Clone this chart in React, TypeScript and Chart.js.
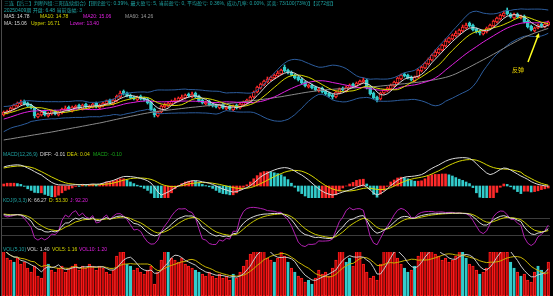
import React, { useEffect, useRef } from 'react';
import { Chart, registerables } from 'chart.js';
Chart.register(...registerables);

// ---------- data ----------
const preCloses = [
  1.9, 1.95, 2.0, 1.95, 2.0, 2.05, 2.0, 2.05, 2.1, 2.05,
  2.1, 2.15, 2.1, 2.2, 2.15, 2.2, 2.25, 2.2, 2.3, 2.25,
  2.3, 2.35, 2.4, 2.35, 2.45, 2.5, 2.45, 2.55, 2.6, 2.7,
  2.8, 2.9, 3.0, 3.1, 3.2, 3.35, 3.5, 3.6, 3.75, 3.9,
  4.1, 4.3, 4.4, 4.6, 4.8, 4.9, 5.1, 5.3, 5.2, 5.5,
  5.6, 5.8, 5.7, 5.9, 6.0, 6.1, 5.9, 6.0, 6.2, 6.3,
];
const opens = [
  5.9, 6.1, 6.3, 6.5, 6.8, 7.0, 7.3, 7.1, 6.9, 6.6, 5.7, 5.9, 6.3, 5.8, 6.0, 6.3, 5.9, 6.1, 6.4, 6.7,
  6.3, 6.6, 6.9, 6.5, 7.0, 6.6, 6.7, 7.1, 6.6, 6.8, 7.0, 7.4, 7.0, 7.3, 7.7, 8.3, 8.1, 7.9, 7.7, 7.4,
  7.8, 7.6, 7.5, 7.2, 6.5, 5.8, 6.2, 6.7, 6.8, 7.0, 7.2, 7.3, 7.5, 7.6, 8.0, 7.7, 8.1, 7.8, 7.4, 7.0,
  7.3, 7.0, 6.9, 6.6, 7.0, 6.5, 6.8, 6.4, 6.9, 6.6, 6.9, 7.1, 7.3, 7.7, 8.2, 8.6, 8.9, 9.2, 9.4, 9.6,
  9.8, 10.0, 10.7, 10.4, 10.2, 9.9, 9.7, 9.5, 9.2, 8.7, 8.9, 8.7, 8.3, 8.6, 8.3, 8.1, 7.9, 7.7, 8.1, 8.6,
  8.3, 8.6, 9.0, 8.8, 9.0, 9.2, 9.4, 8.7, 8.1, 7.7, 7.5, 8.1, 8.3, 8.5, 8.8, 9.1, 9.5, 10.0, 9.9, 9.7,
  9.3, 9.7, 10.3, 10.6, 11.0, 11.4, 11.8, 12.1, 12.4, 12.8, 13.2, 13.5, 13.8, 14.0, 14.3, 14.6, 15.1, 14.9, 14.5, 14.3,
  14.0, 14.2, 14.5, 14.8, 15.2, 15.5, 15.8, 16.4, 16.0, 15.6, 16.0, 15.6, 15.8, 15.3, 14.8, 14.3, 14.6, 15.0, 14.7, 14.9,
];
const highs = [
  6.3, 6.4, 6.7, 7.0, 7.2, 7.4, 7.4, 7.2, 7.0, 6.7, 6.1, 6.3, 6.4, 6.2, 6.4, 6.4, 6.3, 6.6, 6.8, 6.8,
  6.8, 6.9, 7.0, 7.0, 7.1, 6.9, 7.1, 7.2, 7.0, 7.2, 7.4, 7.5, 7.5, 7.9, 8.3, 8.4, 8.2, 8.0, 7.8, 7.8,
  7.9, 7.7, 7.6, 7.3, 6.6, 6.3, 6.9, 7.1, 7.2, 7.4, 7.6, 7.7, 7.9, 8.0, 8.1, 8.2, 8.2, 7.9, 7.5, 7.3,
  7.4, 7.1, 7.0, 7.0, 7.1, 6.8, 6.9, 6.9, 7.0, 7.1, 7.3, 7.5, 7.8, 8.3, 8.8, 9.1, 9.4, 9.7, 9.8, 10.0,
  10.3, 10.5, 10.9, 10.5, 10.3, 10.0, 9.8, 9.6, 9.3, 9.0, 9.0, 8.8, 8.6, 8.7, 8.4, 8.2, 8.0, 8.3, 8.6, 8.7,
  8.8, 9.0, 9.1, 9.2, 9.4, 9.6, 9.5, 8.8, 8.2, 7.8, 8.2, 8.5, 8.7, 9.0, 9.3, 9.7, 10.0, 10.1, 10.0, 9.8,
  9.8, 10.5, 10.8, 11.2, 11.6, 12.0, 12.4, 12.6, 13.0, 13.5, 13.7, 14.0, 14.3, 14.5, 14.9, 15.1, 15.2, 15.0, 14.6, 14.4,
  14.4, 14.7, 15.0, 15.4, 15.7, 16.0, 16.3, 16.6, 16.1, 16.1, 16.1, 15.9, 15.9, 15.4, 14.9, 14.7, 15.0, 15.1, 15.1, 15.3,
];
const lows = [
  5.8, 6.0, 6.2, 6.4, 6.7, 6.9, 6.9, 6.7, 6.5, 5.6, 5.6, 5.8, 5.8, 5.7, 5.9, 5.9, 5.8, 6.0, 6.3, 6.3,
  6.2, 6.5, 6.5, 6.4, 6.6, 6.5, 6.6, 6.6, 6.5, 6.7, 6.9, 7.0, 6.9, 7.2, 7.6, 7.9, 7.7, 7.5, 7.4, 7.3,
  7.4, 7.3, 7.0, 6.3, 5.7, 5.7, 6.1, 6.6, 6.7, 6.9, 7.1, 7.2, 7.4, 7.5, 7.7, 7.6, 7.6, 7.2, 7.0, 6.9,
  6.8, 6.7, 6.6, 6.5, 6.5, 6.4, 6.4, 6.3, 6.5, 6.5, 6.8, 7.0, 7.2, 7.6, 8.1, 8.5, 8.8, 9.1, 9.3, 9.5,
  9.7, 9.9, 10.2, 10.0, 9.8, 9.5, 9.3, 9.0, 8.7, 8.6, 8.5, 8.3, 8.2, 8.1, 7.9, 7.7, 7.5, 7.6, 8.0, 8.3,
  8.2, 8.5, 8.7, 8.7, 8.9, 9.1, 8.5, 7.9, 7.5, 7.2, 7.4, 8.0, 8.2, 8.4, 8.7, 9.0, 9.4, 9.7, 9.5, 9.3,
  9.2, 9.6, 10.2, 10.5, 10.9, 11.3, 11.7, 12.0, 12.3, 12.7, 13.1, 13.4, 13.7, 13.9, 14.2, 14.5, 14.7, 14.3, 14.1, 13.9,
  13.9, 14.1, 14.4, 14.7, 15.1, 15.4, 15.7, 15.9, 15.6, 15.5, 15.6, 15.5, 15.1, 14.6, 14.3, 14.2, 14.5, 14.7, 14.6, 14.8,
];
const closes = [
  6.2, 6.3, 6.6, 6.9, 7.1, 7.2, 7.0, 6.8, 6.6, 5.8, 6.0, 6.2, 5.9, 6.1, 6.3, 6.0, 6.2, 6.5, 6.6, 6.4,
  6.7, 6.8, 6.6, 6.9, 6.7, 6.8, 7.0, 6.7, 6.9, 7.1, 7.3, 7.1, 7.4, 7.8, 8.1, 8.0, 7.8, 7.6, 7.5, 7.7,
  7.5, 7.4, 7.1, 6.4, 5.9, 6.2, 6.8, 6.9, 7.1, 7.3, 7.4, 7.6, 7.7, 7.9, 7.8, 8.0, 7.7, 7.3, 7.1, 7.2,
  6.9, 6.8, 6.7, 6.9, 6.6, 6.7, 6.5, 6.8, 6.6, 7.0, 7.2, 7.4, 7.7, 8.2, 8.7, 9.0, 9.3, 9.5, 9.7, 9.9,
  10.1, 10.4, 10.3, 10.2, 9.9, 9.6, 9.4, 9.1, 8.8, 8.9, 8.6, 8.4, 8.5, 8.2, 8.0, 7.8, 7.7, 8.2, 8.5, 8.4,
  8.7, 8.9, 8.8, 9.1, 9.3, 9.4, 8.6, 8.0, 7.6, 7.4, 8.1, 8.4, 8.6, 8.9, 9.2, 9.6, 9.9, 9.8, 9.6, 9.4,
  9.7, 10.4, 10.7, 11.1, 11.5, 11.9, 12.2, 12.5, 12.9, 13.3, 13.6, 13.9, 14.1, 14.4, 14.7, 14.9, 14.8, 14.4, 14.2, 14.1,
  14.3, 14.6, 14.9, 15.3, 15.6, 15.9, 16.1, 16.0, 15.7, 16.0, 15.7, 15.8, 15.2, 14.7, 14.4, 14.6, 14.9, 14.8, 15.0, 15.2,
];
// long (grey) average line
const ma60 = [
  3.40, 3.46, 3.51, 3.57, 3.63, 3.69, 3.74, 3.80, 3.86, 3.92, 3.97, 4.03, 4.09, 4.14, 4.20, 4.26, 4.33, 4.39, 4.46, 4.52,
  4.59, 4.65, 4.71, 4.78, 4.84, 4.91, 4.97, 5.04, 5.10, 5.17, 5.25, 5.32, 5.40, 5.47, 5.55, 5.62, 5.69, 5.76, 5.83, 5.90,
  5.97, 6.04, 6.10, 6.16, 6.21, 6.26, 6.30, 6.35, 6.39, 6.43, 6.47, 6.51, 6.55, 6.59, 6.63, 6.67, 6.70, 6.74, 6.77, 6.81,
  6.84, 6.88, 6.91, 6.95, 6.98, 7.02, 7.06, 7.10, 7.14, 7.18, 7.22, 7.26, 7.30, 7.35, 7.39, 7.44, 7.48, 7.53, 7.58, 7.63,
  7.68, 7.73, 7.79, 7.85, 7.91, 7.97, 8.03, 8.09, 8.15, 8.20, 8.25, 8.30, 8.34, 8.38, 8.41, 8.44, 8.47, 8.50, 8.52, 8.54,
  8.56, 8.58, 8.60, 8.62, 8.64, 8.66, 8.68, 8.70, 8.73, 8.76, 8.79, 8.83, 8.86, 8.89, 8.93, 8.96, 9.00, 9.03, 9.07, 9.10,
  9.14, 9.18, 9.22, 9.27, 9.32, 9.38, 9.44, 9.51, 9.58, 9.66, 9.76, 9.88, 10.02, 10.18, 10.35, 10.52, 10.70, 10.88, 11.06, 11.24,
  11.42, 11.60, 11.79, 11.98, 12.17, 12.37, 12.56, 12.76, 12.95, 13.14, 13.32, 13.50, 13.67, 13.82, 13.96, 14.09, 14.21, 14.33, 14.45, 14.56,
];
const diffLine = [
  0.95, 1.0, 1.03, 1.05, 1.06, 1.04, 0.98, 0.9, 0.82, 0.72, 0.63, 0.55, 0.42, 0.3, 0.18, 0.1, 0.06, 0.05, 0.05, 0.04,
  0.05, 0.07, 0.06, 0.08, 0.07, 0.08, 0.1, 0.09, 0.1, 0.14, 0.2, 0.23, 0.28, 0.35, 0.42, 0.47, 0.48, 0.47, 0.45, 0.42,
  0.38, 0.33, 0.26, 0.15, -0.05, -0.3, -0.45, -0.38, -0.3, -0.2, -0.1, 0.0, 0.08, 0.16, 0.22, 0.26, 0.27, 0.25, 0.21, 0.18,
  0.14, 0.08, 0.0, -0.08, -0.15, -0.2, -0.26, -0.3, -0.28, -0.22, -0.15, -0.08, 0.02, 0.15, 0.3, 0.45, 0.56, 0.65, 0.73, 0.8,
  0.86, 0.9, 0.92, 0.9, 0.84, 0.75, 0.64, 0.55, 0.43, 0.3, 0.15, 0.0, -0.15, -0.26, -0.35, -0.41, -0.45, -0.42, -0.36, -0.3,
  -0.25, -0.2, -0.14, -0.06, 0.0, 0.05, -0.05, -0.2, -0.35, -0.45, -0.38, -0.28, -0.15, 0.02, 0.15, 0.28, 0.38, 0.44, 0.47, 0.48,
  0.5, 0.53, 0.57, 0.66, 0.78, 0.88, 0.97, 1.05, 1.15, 1.24, 1.31, 1.36, 1.39, 1.41, 1.42, 1.41, 1.38, 1.28, 1.12, 0.95,
  0.8, 0.65, 0.57, 0.62, 0.72, 0.83, 0.9, 0.88, 0.8, 0.7, 0.6, 0.5, 0.42, 0.33, 0.22, 0.14, 0.08, 0.04, 0.01, -0.01,
];
const deaLine = [
  0.9, 0.93, 0.96, 0.98, 1.0, 1.0, 0.99, 0.97, 0.93, 0.88, 0.8, 0.72, 0.63, 0.54, 0.45, 0.37, 0.29, 0.22, 0.16, 0.12,
  0.1, 0.08, 0.07, 0.06, 0.06, 0.06, 0.06, 0.06, 0.07, 0.08, 0.1, 0.12, 0.15, 0.19, 0.24, 0.29, 0.33, 0.37, 0.39, 0.4,
  0.4, 0.39, 0.37, 0.33, 0.27, 0.18, 0.09, 0.03, -0.01, -0.03, -0.03, -0.01, 0.02, 0.06, 0.1, 0.13, 0.15, 0.17, 0.17, 0.17,
  0.16, 0.14, 0.11, 0.08, 0.04, 0.0, -0.04, -0.08, -0.11, -0.12, -0.12, -0.11, -0.08, -0.03, 0.04, 0.12, 0.2, 0.29, 0.38, 0.47,
  0.55, 0.62, 0.69, 0.74, 0.77, 0.78, 0.77, 0.74, 0.68, 0.6, 0.5, 0.38, 0.25, 0.13, 0.02, -0.07, -0.15, -0.2, -0.23, -0.25,
  -0.25, -0.25, -0.23, -0.2, -0.16, -0.12, -0.1, -0.11, -0.14, -0.17, -0.18, -0.17, -0.14, -0.08, 0.0, 0.08, 0.16, 0.23, 0.29, 0.34,
  0.38, 0.41, 0.44, 0.48, 0.53, 0.6, 0.68, 0.76, 0.85, 0.94, 1.03, 1.11, 1.18, 1.24, 1.28, 1.31, 1.32, 1.32, 1.29, 1.23,
  1.15, 1.06, 0.98, 0.92, 0.88, 0.86, 0.85, 0.84, 0.82, 0.78, 0.74, 0.69, 0.55, 0.46, 0.37, 0.28, 0.2, 0.13, 0.08, 0.04,
];
const volumes = [
  2.4, 1.9, 1.8, 1.7, 1.9, 1.6, 1.7, 1.4, 1.2, 1.5, 1.0, 0.9, 2.3, 1.6, 1.3, 1.2, 1.4, 1.5, 1.2, 1.4,
  1.5, 1.6, 1.3, 1.5, 1.4, 1.6, 1.5, 1.3, 1.5, 1.4, 1.2, 1.1, 1.3, 2.0, 2.4, 2.2, 1.6, 1.5, 1.3, 1.4,
  1.2, 1.1, 1.3, 1.5, 0.6, 1.2, 1.8, 2.4, 2.3, 1.9, 1.8, 1.7, 1.9, 1.6, 1.5, 1.4, 1.3, 1.2, 1.1, 1.0,
  1.2, 1.0, 0.9, 1.1, 0.9, 1.0, 0.8, 1.1, 0.9, 1.2, 1.5, 1.8, 2.1, 2.4, 2.5, 2.3, 2.4, 1.9, 1.8, 1.7,
  1.9, 2.3, 2.0, 1.7, 1.4, 1.2, 1.0, 0.9, 0.7, 0.8, 0.6, 0.9, 1.3, 1.1, 1.2, 1.0, 1.4, 1.8, 2.4, 2.3,
  1.7, 1.9, 1.5, 2.3, 2.4, 1.6, 1.2, 0.9, 1.0, 0.8, 1.6, 2.4, 2.3, 2.5, 2.2, 1.9, 1.6, 1.4, 1.2, 1.3,
  1.5, 2.0, 2.4, 2.5, 2.3, 2.4, 2.1, 2.0, 1.8, 1.9, 1.7, 1.8, 2.0, 2.4, 2.3, 1.9, 1.6, 1.5, 1.3, 1.1,
  1.2, 1.4, 2.2, 2.4, 2.5, 2.3, 2.4, 2.2, 1.7, 1.4, 1.2, 1.0, 1.1, 0.8, 0.7, 1.2, 1.5, 1.3, 1.1, 1.7,
];
// bars whose volume column is drawn cyan
const volDownBars = [3, 13, 36, 37, 48, 56, 57, 67, 79, 83, 85, 89, 90, 100, 101, 117, 118, 120, 134, 135, 139, 148, 149, 151, 156, 157];

const headerLine1 = '三连【后三】判断N组:三阳连续组合)【理论盈亏: 0.39%, 最大盈亏: 5, 当前盈亏: 0, 平均盈亏: 0.36%, 成功几率: 0.00%, 买卖: 73/100(73%)】【买72组】';
const headerLine2 = '20250409期 开盘: 6.48 当前涨幅: 3';
const arrowText = '反弹';
const arrowBar = 156;

// ---------- colours ----------
const RED = '#ff2a2a';
const CYAN = '#33cccc';
const TEAL = '#1fa3a3';
const WHITE = '#d8d8d8';
const YELLOW = '#d8d800';
const MAGENTA = '#e020e0';
const GRAY = '#8a8a8a';
const BLUE = '#2c5c9c';
const FONT = '5px "Liberation Sans", "Noto Sans CJK SC", sans-serif';

// ---------- indicators ----------
function sma(a: number[], n: number) {
  const out: number[] = [];
  let s = 0;
  for (let i = 0; i < a.length; i++) {
    s += a[i];
    if (i >= n) s -= a[i - n];
    out.push(s / Math.min(i + 1, n));
  }
  return out;
}
function stdev(a: number[], n: number, m: number[]) {
  return a.map((_, i) => {
    const st = Math.max(0, i - n + 1);
    const cnt = i - st + 1;
    if (cnt < 2) return 0;
    let s = 0;
    for (let j = st; j <= i; j++) s += (a[j] - m[i]) ** 2;
    return Math.sqrt(s / (cnt - 1));
  });
}

const P = preCloses.length;
const labels = closes.map((_, i) => String(i));
const fullC = preCloses.concat(closes);
const fullH = preCloses.concat(highs);
const fullL = preCloses.concat(lows);

const ma5 = sma(fullC, 5).slice(P);
const ma10 = sma(fullC, 10).slice(P);
const ma20Full = sma(fullC, 20);
const ma20 = ma20Full.slice(P);
const sd20 = stdev(fullC, 20, ma20Full).slice(P);
const upper = ma20.map((m, i) => m + 2 * sd20[i]);
const lower = ma20.map((m, i) => m - 2 * sd20[i]);

const macd = diffLine.map((v, i) => 2 * (v - deaLine[i]));

const kArr: number[] = [];
const dArr: number[] = [];
const jArr: number[] = [];
{
  let K = 50, D = 50;
  for (let i = 0; i < fullC.length; i++) {
    const st = Math.max(0, i - 8);
    let hi = -Infinity, lo = Infinity;
    for (let j = st; j <= i; j++) { hi = Math.max(hi, fullH[j]); lo = Math.min(lo, fullL[j]); }
    const rsv = hi === lo ? 50 : ((fullC[i] - lo) / (hi - lo)) * 100;
    K = (2 * K + rsv) / 3;
    D = (2 * D + K) / 3;
    if (i >= P) { kArr.push(K); dArr.push(D); jArr.push(3 * K - 2 * D); }
  }
}
const vol5 = sma(volumes, 5);
const vol10 = sma(volumes, 10);

const isUp = closes.map((c, i) => c >= opens[i]);
const volUp = volumes.map((_, i) => volDownBars.indexOf(i) < 0);

// ---------- helpers ----------
type Txt = { t: string; c: string; x: number; y: number };
const LEFT = 2;
const WIDTH = 548;

function textPlugin(items: Txt[], top: number) {
  return {
    id: 'txt',
    afterDraw(chart: any) {
      const ctx = chart.ctx;
      ctx.save();
      ctx.font = FONT;
      ctx.textBaseline = 'middle';
      for (const it of items) {
        ctx.fillStyle = it.c;
        ctx.fillText(it.t, it.x - LEFT, it.y - top);
      }
      ctx.restore();
    },
  };
}

function baseOptions(min: number, max: number, padTop = 0) {
  return {
    responsive: false,
    maintainAspectRatio: false,
    animation: false,
    events: [],
    layout: { padding: { top: padTop, left: 0, right: 0, bottom: 0 } },
    plugins: { legend: { display: false }, tooltip: { enabled: false } },
    scales: {
      x: { type: 'category', display: false, offset: true, grid: { display: false } },
      y: { type: 'linear', display: false, min, max },
    },
  };
}

function line(data: number[], color: string, order: number) {
  return {
    type: 'line', data, borderColor: color, borderWidth: 1, pointRadius: 0,
    tension: 0, fill: false, order,
  };
}

// ---------- panels ----------
function mainConfig(): any {
  const top = 0;
  const txt: Txt[] = [
    { t: headerLine1, c: TEAL, x: 4, y: 4 },
    { t: headerLine2, c: TEAL, x: 4, y: 10.5 },
    { t: 'MA5: 14.78', c: WHITE, x: 4, y: 17 },
    { t: 'MA10: 14.78', c: YELLOW, x: 40, y: 17 },
    { t: 'MA20: 15.06', c: MAGENTA, x: 83, y: 17 },
    { t: 'MA60: 14.26', c: '#9a9a9a', x: 125, y: 17 },
    { t: 'MA: 15.06', c: WHITE, x: 4, y: 23.5 },
    { t: 'Upper: 16.71', c: YELLOW, x: 31, y: 23.5 },
    { t: 'Lower: 13.40', c: MAGENTA, x: 70, y: 23.5 },
  ];
  const arrow = {
    id: 'arrow',
    afterDraw(chart: any) {
      const ctx = chart.ctx;
      const xs = chart.scales.x, ys = chart.scales.y;
      const tx = xs.getPixelForValue(arrowBar) + 1;
      const ty = ys.getPixelForValue(lows[arrowBar]) + 4;
      const sx = tx - 11, sy = ty + 29;
      ctx.save();
      ctx.strokeStyle = '#ffff20';
      ctx.fillStyle = '#ffff20';
      ctx.lineWidth = 1.5;
      ctx.beginPath();
      ctx.moveTo(sx, sy);
      ctx.lineTo(tx - 1.3, ty + 3.5);
      ctx.stroke();
      const ang = Math.atan2(ty - sy, tx - sx);
      ctx.beginPath();
      ctx.moveTo(tx, ty);
      ctx.lineTo(tx - 5 * Math.cos(ang - 0.45), ty - 5 * Math.sin(ang - 0.45));
      ctx.lineTo(tx - 5 * Math.cos(ang + 0.45), ty - 5 * Math.sin(ang + 0.45));
      ctx.closePath();
      ctx.fill();
      ctx.font = '6px "Noto Sans CJK SC", sans-serif';
      ctx.textBaseline = 'middle';
      ctx.fillStyle = '#e8d000';
      ctx.fillText(arrowText, tx - 27, ty + 37);
      ctx.restore();
    },
  };
  return {
    type: 'bar',
    data: {
      labels,
      datasets: [
        {
          type: 'bar', data: closes.map((_, i) => [lows[i], highs[i]]),
          backgroundColor: isUp.map((u) => (u ? RED : CYAN)), barThickness: 1,
          grouped: false, order: 10,
        },
        {
          type: 'bar', data: closes.map((c, i) => [opens[i], c]),
          backgroundColor: isUp.map((u) => (u ? '#000000' : CYAN)),
          borderColor: isUp.map((u) => (u ? RED : CYAN)), borderWidth: 1, borderSkipped: false,
          barThickness: 3, grouped: false, order: 9,
        },
        line(upper, BLUE, 5),
        line(lower, BLUE, 5),
        line(ma60, GRAY, 4),
        line(ma20, MAGENTA, 3),
        line(ma10, YELLOW, 2),
        line(ma5, WHITE, 1),
      ],
    },
    options: baseOptions(2.4, 17.4),
    plugins: [textPlugin(txt, top), arrow],
  };
}

function macdConfig(): any {
  const top = 150;
  const txt: Txt[] = [
    { t: 'MACD(12,26,9)', c: TEAL, x: 3, y: 155 },
    { t: 'DIFF: -0.01', c: WHITE, x: 40, y: 155 },
    { t: 'DEA: 0.04', c: YELLOW, x: 67, y: 155 },
    { t: 'MACD: -0.10', c: '#18a818', x: 93, y: 155 },
  ];
  return {
    type: 'bar',
    data: {
      labels,
      datasets: [
        {
          type: 'bar', data: macd,
          backgroundColor: macd.map((v, i) => (i === 0 || v >= macd[i - 1] ? RED : CYAN)),
          barThickness: 2, grouped: false, order: 5,
        },
        line(deaLine, YELLOW, 2),
        line(diffLine, WHITE, 1),
      ],
    },
    options: baseOptions(-0.6, 1.8),
    plugins: [textPlugin(txt, top)],
  };
}

function kdjConfig(): any {
  const top = 196;
  const txt: Txt[] = [
    { t: 'KDJ(9,3,3)', c: TEAL, x: 3, y: 201 },
    { t: 'K: 66.27', c: WHITE, x: 28, y: 201 },
    { t: 'D: 53.30', c: YELLOW, x: 49, y: 201 },
    { t: 'J: 92.20', c: MAGENTA, x: 70, y: 201 },
  ];
  const grid = {
    id: 'kdjgrid',
    beforeDatasetsDraw(chart: any) {
      const ctx = chart.ctx;
      const ys = chart.scales.y;
      ctx.save();
      ctx.strokeStyle = '#3c3c3c';
      ctx.lineWidth = 1;
      for (const v of [80, 50, 20]) {
        const y = Math.round(ys.getPixelForValue(v)) + 0.5;
        ctx.beginPath();
        ctx.moveTo(chart.chartArea.left, y);
        ctx.lineTo(chart.chartArea.right, y);
        ctx.stroke();
      }
      ctx.restore();
    },
  };
  return {
    type: 'line',
    data: {
      labels,
      datasets: [line(jArr, '#b020b0', 3), line(dArr, '#c8c800', 2), line(kArr, WHITE, 1)],
    },
    options: baseOptions(-26, 156),
    plugins: [grid, textPlugin(txt, top)],
  };
}

function volConfig(): any {
  const top = 246;
  const txt: Txt[] = [
    { t: 'VOL(5,10)', c: TEAL, x: 3, y: 250 },
    { t: 'VOL: 1.40', c: WHITE, x: 27, y: 250 },
    { t: 'VOL5: 1.16', c: YELLOW, x: 52, y: 250 },
    { t: 'VOL10: 1.20', c: MAGENTA, x: 79, y: 250 },
  ];
  return {
    type: 'bar',
    data: {
      labels,
      datasets: [
        {
          type: 'bar', data: volumes,
          backgroundColor: volUp.map((u) => (u ? '#b00000' : CYAN)),
          borderColor: volUp.map((u) => (u ? '#ff2020' : CYAN)),
          borderWidth: 1, borderSkipped: false,
          barThickness: 2.6, grouped: false, order: 5,
        },
        line(vol10, '#c8b400', 2),
        line(vol5, '#c8c8c8', 1),
      ],
    },
    options: baseOptions(0, 2.2, 6),
    plugins: [textPlugin(txt, top)],
  };
}

function Panel({ top, height, build }: { top: number; height: number; build: () => any }) {
  const ref = useRef<HTMLCanvasElement>(null);
  useEffect(() => {
    const chart = new Chart(ref.current as HTMLCanvasElement, build());
    return () => chart.destroy();
  }, []);
  return (
    <canvas
      ref={ref}
      width={WIDTH}
      height={height}
      style={{ position: 'absolute', left: LEFT, top, width: WIDTH, height, display: 'block' }}
    />
  );
}

export default function App() {
  return (
    <div
      style={{
        position: 'fixed', left: 0, top: 0, width: 553, height: 296,
        background: '#000', overflow: 'hidden',
      }}
    >
      <div style={{ position: 'absolute', left: 1, top: 0, width: 1, height: 296, background: '#4a4a4a' }} />
      <Panel top={0} height={150} build={mainConfig} />
      <Panel top={150} height={48} build={macdConfig} />
      <Panel top={196} height={52} build={kdjConfig} />
      <Panel top={246} height={50} build={volConfig} />
    </div>
  );
}
